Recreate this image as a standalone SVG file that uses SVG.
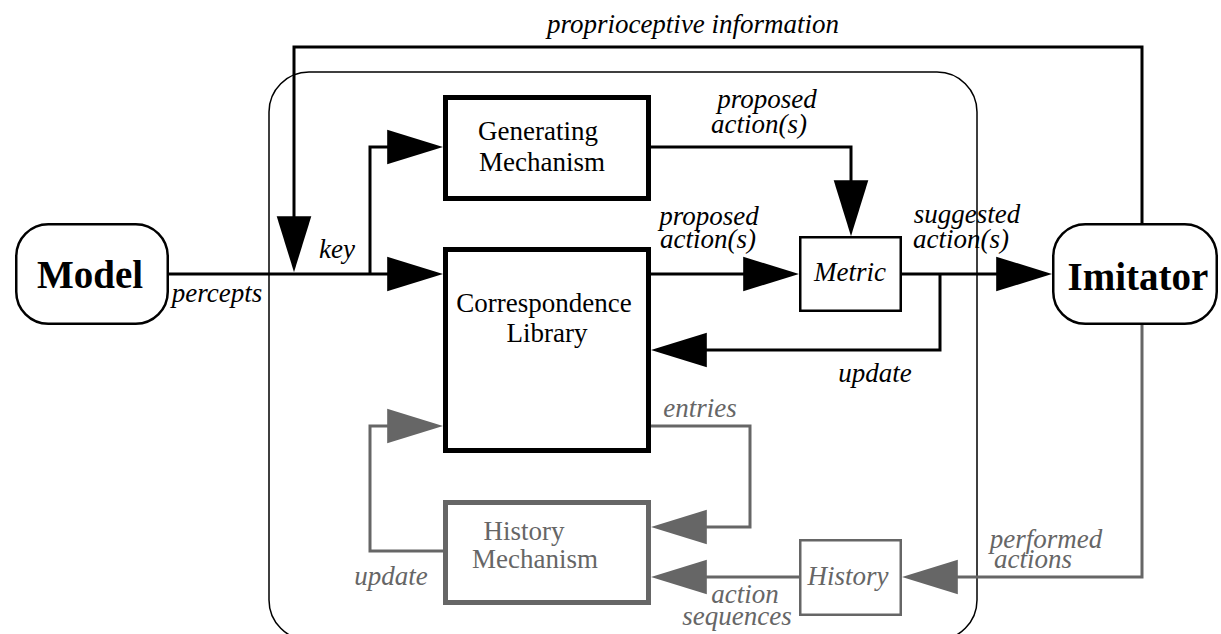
<svg xmlns="http://www.w3.org/2000/svg" width="1221" height="634" viewBox="0 0 1221 634">
<style>
text{font-family:"Liberation Serif","Times New Roman",serif;font-size:27px;text-anchor:middle}
.it{font-style:italic}
.bold{font-weight:bold;font-size:39px}
.g{fill:#666}
.k{fill:#000}
.thick{fill:#fff;stroke:#000;stroke-width:5}
.thickg{fill:#fff;stroke:#666;stroke-width:5}
.thin{fill:#fff;stroke:#000;stroke-width:2.5}
.thing{fill:#fff;stroke:#666;stroke-width:2.5}
.c{fill:none;stroke:#000;stroke-width:3}
.cg{fill:none;stroke:#666;stroke-width:3}
</style>
<defs>
<marker id="ak" markerUnits="userSpaceOnUse" markerWidth="56" markerHeight="36" viewBox="0 0 55 34" refX="45" refY="17" orient="auto"><path d="M0,0 L55,17 L0,34 Z" fill="#000"/></marker>
<marker id="ag" markerUnits="userSpaceOnUse" markerWidth="56" markerHeight="36" viewBox="0 0 55 34" refX="45" refY="17" orient="auto"><path d="M0,0 L55,17 L0,34 Z" fill="#666"/></marker>
</defs>
<rect width="1221" height="634" fill="#fff"/>
<g id="container"><rect x="269" y="72" width="708" height="568" rx="40" fill="none" stroke="#000" stroke-width="1.5"/></g>
<g id="connectors">
<path class="c" d="M169,274 H433" marker-end="url(#ak)"/>
<path class="c" d="M370,274 V147 H433" marker-end="url(#ak)"/>
<path class="c" d="M1142,223 V47 H294 V262" marker-end="url(#ak)"/>
<path class="c" d="M651,147 H851 V226" marker-end="url(#ak)"/>
<path class="c" d="M651,274 H789" marker-end="url(#ak)"/>
<path class="c" d="M902,274 H1042" marker-end="url(#ak)"/>
<path class="c" d="M940,274 V350 H661" marker-end="url(#ak)"/>
<path class="cg" d="M651,426 H750 V527 H661" marker-end="url(#ag)"/>
<path class="cg" d="M443,551 H370 V426 H433" marker-end="url(#ag)"/>
<path class="cg" d="M799,577 H661" marker-end="url(#ag)"/>
<path class="cg" d="M1142,325 V577 H912" marker-end="url(#ag)"/>
</g>
<g id="labels">
<text class="it" x="693" y="33">proprioceptive information</text>
<text class="it" x="767" y="108">proposed</text>
<text class="it" x="759" y="133">action(s)</text>
<text class="it" x="709" y="225">proposed</text>
<text class="it" x="708" y="248">action(s)</text>
<text class="it" x="967" y="223">suggested</text>
<text class="it" x="961" y="248">action(s)</text>
<text class="it" x="337" y="258">key</text>
<text class="it" x="217" y="302">percepts</text>
<text class="it" x="875" y="382">update</text>
<text class="it g" x="700" y="417">entries</text>
<text class="it g" x="391" y="585">update</text>
<text class="it g" x="745" y="603">action</text>
<text class="it g" x="737" y="625">sequences</text>
<text class="it g" x="1046" y="548">performed</text>
<text class="it g" x="1033" y="568">actions</text>
</g>
<g id="model"><rect class="thin" x="16.25" y="224.25" width="151.5" height="99.5" rx="32"/><text class="bold" x="90" y="288">Model</text></g>
<g id="imitator"><rect class="thin" x="1053.25" y="224.25" width="163.5" height="99.5" rx="32"/><text class="bold" x="1138" y="290">Imitator</text></g>
<g id="generating"><rect class="thick" x="445.5" y="97.5" width="203" height="101"/><text x="538" y="140">Generating</text><text x="542" y="171">Mechanism</text></g>
<g id="library"><rect class="thick" x="445.5" y="249.5" width="203" height="201"/><text x="544" y="312">Correspondence</text><text x="547" y="342">Library</text></g>
<g id="metric"><rect class="thin" x="800.25" y="237.25" width="100.5" height="73.5"/><text class="it" x="850" y="281">Metric</text></g>
<g id="historymech"><rect class="thickg" x="445.5" y="502.5" width="203" height="100"/><text class="g" x="524" y="540">History</text><text class="g" x="535" y="568">Mechanism</text></g>
<g id="history"><rect class="thing" x="800.25" y="540.25" width="100.5" height="74.5"/><text class="it g" x="848" y="585">History</text></g>
</svg>
